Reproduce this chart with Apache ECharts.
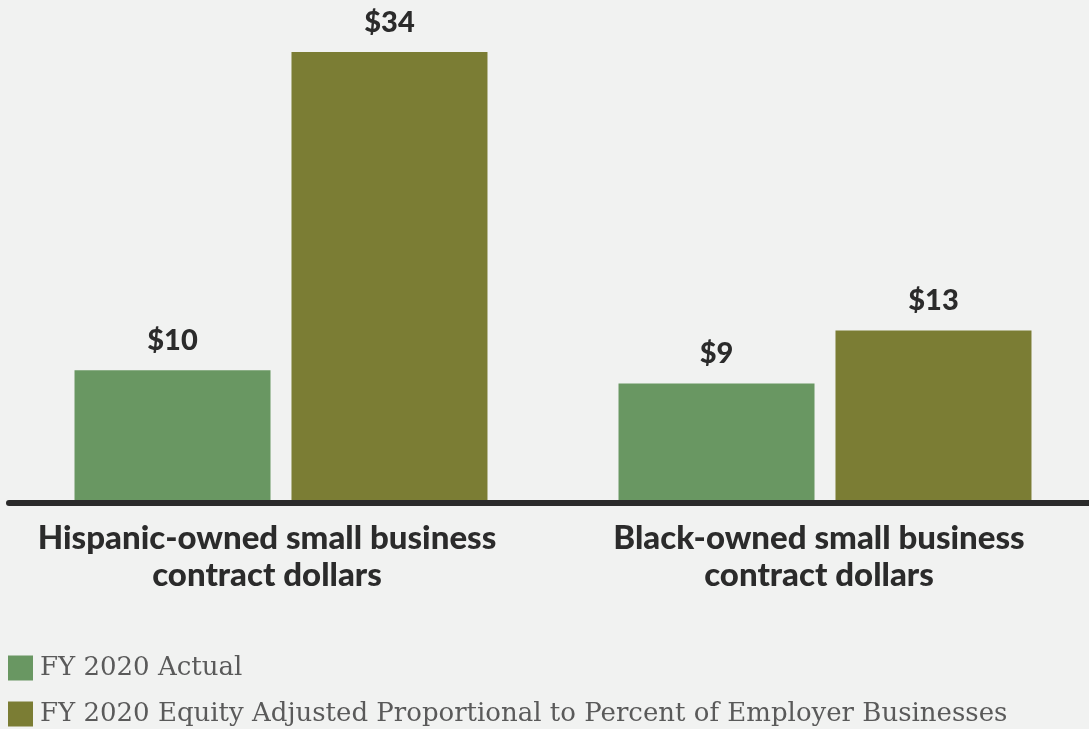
<!DOCTYPE html>
<html><head><meta charset="utf-8">
<script src="https://cdn.jsdelivr.net/npm/echarts@6/dist/echarts.min.js"></script>
<style>html,body{margin:0;padding:0;background:#f1f2f1;overflow:hidden;width:1089px;height:729px;}#c{width:1100px;height:729px;}</style>
</head><body><div id="c"></div>
<script>
const categories = ['Hispanic-owned small business\ncontract dollars', 'Black-owned small business\ncontract dollars'];
const seriesNames = ['FY 2020 Actual', 'FY 2020 Equity Adjusted Proportional to Percent of Employer Businesses'];
const actualValues = [10, 9];
const equityValues = [34, 13];
const colors = ['#699762', '#7b7d34'];

const chart = echarts.init(document.getElementById('c'));
const labelStyle = {show: true, position: 'top', distance: 15, formatter: p => '$' + p.value,
  fontFamily: 'Lato', fontWeight: 900, fontSize: 29, color: '#2b2b2b'};
const catFont = {fontFamily: 'Lato', fontWeight: 900, fontSize: 33, color: '#2b2b2b', lineHeight: 37};
chart.setOption({
  backgroundColor: '#f1f2f1',
  animation: false,
  grid: {left: 9, width: 1088, top: 52, bottom: 226},
  legend: {orient: 'vertical', left: 8, top: 655, padding: 0, itemWidth: 25, itemHeight: 25, itemGap: 20,
    icon: 'rect', textStyle: {fontFamily: 'DejaVu Serif', fontSize: 26, color: '#5a5a5a', padding: [0,0,0,2]},
    data: seriesNames},
  xAxis: {type: 'category', data: categories, z: 10,
    axisLine: {lineStyle: {color: '#2b2b2b', width: 6}}, axisTick: {show: false},
    axisLabel: {margin: 17,
      formatter: (v, i) => v.split('\n').map(s => '{' + (i === 0 ? 'a' : 'b') + '|' + s + '}').join('\n'),
      rich: {a: Object.assign({padding: [0, 28, 0, 0]}, catFont), b: Object.assign({padding: [0, 12, 0, 0]}, catFont)}}},
  yAxis: {type: 'value', min: 0, max: 34, show: false, splitLine: {show: false}},
  series: [
    {name: seriesNames[0], type: 'bar', data: actualValues, barWidth: 196, barGap: '10.7%',
     itemStyle: {color: colors[0]}, label: labelStyle},
    {name: seriesNames[1], type: 'bar', data: equityValues, barWidth: 196,
     itemStyle: {color: colors[1]}, label: labelStyle}
  ]
});
</script></body></html>
